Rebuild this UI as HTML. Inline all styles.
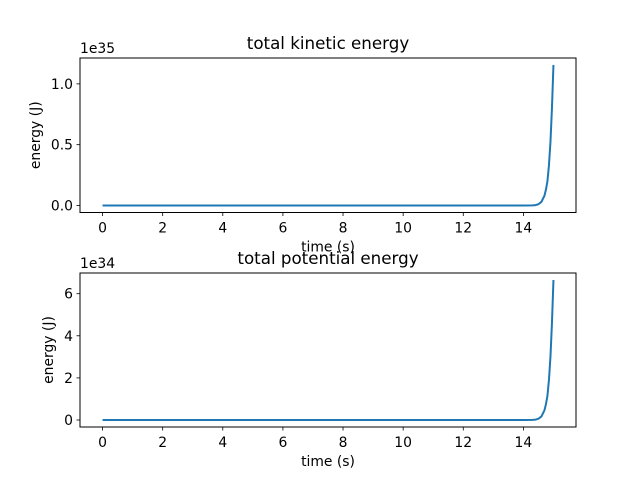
<!DOCTYPE html>
<html><head><meta charset="utf-8"><style>
body{margin:0;background:#fff;}
svg{display:block;font-family:"DejaVu Sans","Liberation Sans",sans-serif;}
</style></head><body>
<svg id="c" width="640" height="480"></svg>
<script>
const times = [0, 2, 4, 6, 8, 10, 12, 14, 14.3, 14.4, 14.5, 14.6, 14.7, 14.75, 14.8, 14.85, 14.9, 14.95, 15.0];
const kinetic = [0, 0, 0, 0, 0, 0, 0, 0, 0.001, 0.003, 0.01, 0.03, 0.08, 0.13, 0.2, 0.33, 0.52, 0.8, 1.155];
const potential = [0, 0, 0, 0, 0, 0, 0, 0, 0.006, 0.017, 0.058, 0.17, 0.46, 0.75, 1.15, 1.9, 3.0, 4.6, 6.65];
const xTicks = [0, 2, 4, 6, 8, 10, 12, 14];
const kTicks = [0.0, 0.5, 1.0];
const pTicks = [0, 2, 4, 6];
const NS = "http://www.w3.org/2000/svg";
const svg = document.getElementById('c');
function el(tag, attrs, parent){const e=document.createElementNS(NS,tag);for(const k in attrs)e.setAttribute(k,attrs[k]);(parent||svg).appendChild(e);return e;}
function panel(cfg){
  const {top,bottom,left,right,vals,yTicks,fmt,title,exp,name}=cfg;
  const g=el('g',{});
  
  
  const xmin=-0.75,xmax=15.75;
  const ymax=Math.max(...vals), pad=ymax*0.05;
  const X=v=>left+(v-xmin)/(xmax-xmin)*(right-left);
  const Y=v=>bottom-(v+pad)/(ymax+2*pad)*(bottom-top);
  xTicks.forEach(t=>{
    el('line',{x1:X(t),x2:X(t),y1:bottom,y2:bottom+3.5,stroke:'#000','stroke-width':0.8},g);
    const tx=el('text',{x:X(t),y:bottom+20,'font-size':13.9,'text-anchor':'middle'},g);tx.textContent=t;
    
    
  });
  yTicks.forEach(t=>{
    el('line',{x1:left-3.5,x2:left,y1:Y(t),y2:Y(t),stroke:'#000','stroke-width':0.8},g);
    const tx=el('text',{x:left-7,y:Y(t)+5,'font-size':13.9,'text-anchor':'end'},g);tx.textContent=fmt(t);
    
    
  });
  const d=times.map((t,i)=>(i?'L':'M')+X(t).toFixed(2)+','+Y(vals[i]).toFixed(2)).join('');
  const p=el('path',{d,fill:'none',stroke:'#1f77b4','stroke-width':2},g);
  
  
  el('rect',{x:left,y:top,width:right-left,height:bottom-top,fill:'none',stroke:'#000','stroke-width':1},g);
  const ti=el('text',{x:(left+right)/2,y:top-9,'font-size':16.7,'text-anchor':'middle'},g);ti.textContent=title;
  
  
  const ex=el('text',{x:left,y:top-5,'font-size':13.9},g);ex.textContent=exp;
  
  
  const xl=el('text',{x:(left+right)/2,y:bottom+39,'font-size':13.9,'text-anchor':'middle'},g);xl.textContent='time (s)';
  
  
  const yx=cfg.ylx, yc=(top+bottom)/2;
  const yl=el('text',{x:yx,y:yc,'font-size':13.9,'text-anchor':'middle',transform:`rotate(-90 ${yx} ${yc})`},g);yl.textContent='energy (J)';
  
  
}
panel({top:58,bottom:212.5,left:80,right:576,vals:kinetic,yTicks:kTicks,fmt:t=>t.toFixed(1),title:'total kinetic energy',exp:'1e35',name:'kinetic-panel',ylx:40});
panel({top:273,bottom:427,left:80,right:576,vals:potential,yTicks:pTicks,fmt:t=>String(t),title:'total potential energy',exp:'1e34',name:'potential-panel',ylx:53});
</script>
</body></html>
